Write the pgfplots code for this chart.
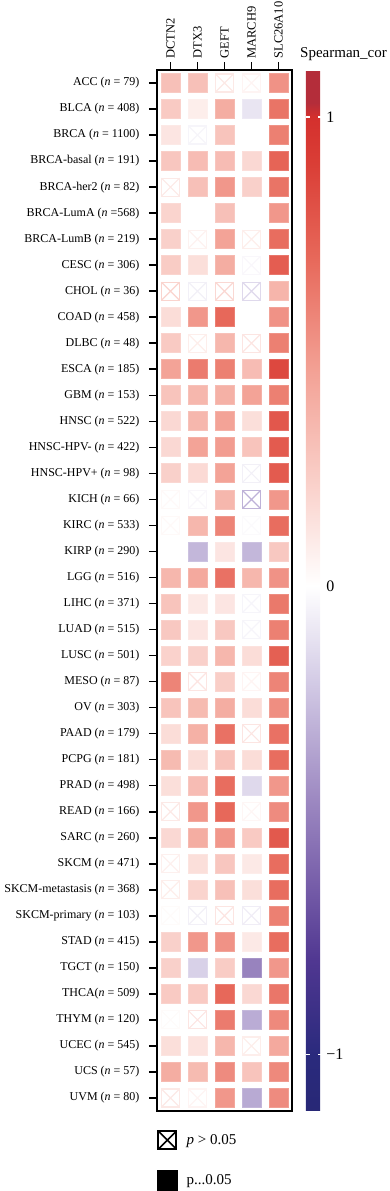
\documentclass[border=0pt]{standalone}
\usepackage{fontspec}
\setmainfont{Liberation Serif}
\usepackage{pgfplots}
\pgfplotsset{compat=1.18}
\usepackage{pgfplotstable}

% filled cells (p <= 0.05): column, row, Spearman correlation
\pgfplotstableread{
x y v
0 0 0.30
1 0 0.30
4 0 0.52
0 1 0.25
1 1 0.08
2 1 0.40
3 1 -0.10
4 1 0.65
0 2 0.12
2 2 0.28
3 2 0.00
4 2 0.60
0 3 0.27
1 3 0.32
2 3 0.32
3 3 0.18
4 3 0.72
1 4 0.30
2 4 0.50
3 4 0.22
4 4 0.65
0 5 0.20
1 5 0.00
2 5 0.30
3 5 0.00
4 5 0.50
0 6 0.22
2 6 0.45
4 6 0.68
0 7 0.24
1 7 0.15
2 7 0.40
4 7 0.75
4 8 0.36
0 9 0.16
1 9 0.50
2 9 0.70
3 9 0.00
4 9 0.52
0 10 0.25
2 10 0.35
4 10 0.60
0 11 0.45
1 11 0.62
2 11 0.60
3 11 0.32
4 11 0.85
0 12 0.28
1 12 0.35
2 12 0.38
3 12 0.45
4 12 0.60
0 13 0.18
1 13 0.35
2 13 0.45
3 13 0.15
4 13 0.78
0 14 0.18
1 14 0.45
2 14 0.48
3 14 0.28
4 14 0.76
0 15 0.22
1 15 0.17
2 15 0.45
4 15 0.76
2 16 0.35
4 16 0.50
1 17 0.35
2 17 0.58
4 17 0.68
0 18 0.00
1 18 -0.28
2 18 0.12
3 18 -0.28
4 18 0.26
0 19 0.35
1 19 0.42
2 19 0.66
3 19 0.35
4 19 0.52
0 20 0.28
1 20 0.10
2 20 0.12
4 20 0.63
0 21 0.26
1 21 0.12
2 21 0.26
4 21 0.60
0 22 0.21
1 22 0.22
2 22 0.35
3 22 0.16
4 22 0.74
0 23 0.58
2 23 0.23
4 23 0.58
0 24 0.28
1 24 0.33
2 24 0.40
3 24 0.16
4 24 0.54
0 25 0.16
1 25 0.38
2 25 0.66
4 25 0.66
0 26 0.33
1 26 0.16
2 26 0.28
3 26 0.16
4 26 0.68
0 27 0.15
1 27 0.32
2 27 0.68
3 27 -0.15
4 27 0.50
1 28 0.50
2 28 0.70
4 28 0.55
0 29 0.18
1 29 0.40
2 29 0.50
3 29 0.25
4 29 0.77
1 30 0.15
2 30 0.27
3 30 0.10
4 30 0.68
1 31 0.20
2 31 0.30
3 31 0.15
4 31 0.68
4 32 0.60
0 33 0.22
1 33 0.50
2 33 0.52
3 33 0.10
4 33 0.68
0 34 0.22
1 34 -0.18
2 34 0.24
3 34 -0.48
4 34 0.50
0 35 0.25
1 35 0.25
2 35 0.70
3 35 0.18
4 35 0.64
2 36 0.62
3 36 -0.32
4 36 0.56
0 37 0.15
1 37 0.13
2 37 0.35
4 37 0.42
0 38 0.40
1 38 0.33
2 38 0.55
3 38 0.28
4 38 0.56
2 39 0.50
3 39 -0.33
4 39 0.55
}\sigtable

% crossed cells (p > 0.05)
\pgfplotstableread{
x y v
2 0 0.10
3 0 0.05
1 2 -0.04
0 4 0.10
1 6 0.06
3 6 0.08
3 7 -0.03
0 8 0.20
1 8 -0.06
2 8 0.18
3 8 -0.15
1 10 0.08
3 10 0.12
3 15 -0.06
0 16 0.03
1 16 -0.03
3 16 -0.30
0 17 0.03
3 17 -0.02
3 20 -0.04
3 21 -0.04
1 23 0.12
3 23 0.05
3 25 0.12
0 28 0.10
3 28 0.04
0 30 0.07
0 31 0.08
0 32 0.02
1 32 -0.06
2 32 0.12
3 32 -0.07
0 36 0.02
1 36 0.12
3 37 0.08
0 39 0.10
1 39 0.05
}\nstable

\begin{document}
\begin{tikzpicture}
\path[use as bounding box] (0,0) rectangle (389pt,-1191pt);
\begin{axis}[
  at={(157pt,-70pt)}, anchor=north west,
  scale only axis, width=135pt, height=1041pt,
  xmin=-0.5, xmax=4.5, ymin=-0.5, ymax=39.5,
  y dir=reverse,
  axis line style={line width=1.6pt},
  tick align=outside,
  major tick length=8pt,
  tick style={black, line width=1.6pt},
  xtick={0,1,2,3,4},
  xticklabels={DCTN2,DTX3,GEFT,MARCH9,SLC26A10},
  xtick pos=upper, xticklabel pos=upper,
  xticklabel style={rotate=90, anchor=west, font=\fontsize{12.5}{12.5}\selectfont},
  ytick={0,...,39},
  ytick pos=lower,
  yticklabel style={font=\fontsize{12}{12}\selectfont, xshift=-6pt},
  yticklabels={
    {ACC (\textit{n} = 79)},
    {BLCA (\textit{n} = 408)},
    {BRCA (\textit{n} = 1100)},
    {BRCA-basal (\textit{n} = 191)},
    {BRCA-her2 (\textit{n} = 82)},
    {BRCA-LumA (\textit{n} =568)},
    {BRCA-LumB (\textit{n} = 219)},
    {CESC (\textit{n} = 306)},
    {CHOL (\textit{n} = 36)},
    {COAD (\textit{n} = 458)},
    {DLBC (\textit{n} = 48)},
    {ESCA (\textit{n} = 185)},
    {GBM (\textit{n} = 153)},
    {HNSC (\textit{n} = 522)},
    {HNSC-HPV- (\textit{n} = 422)},
    {HNSC-HPV+ (\textit{n} = 98)},
    {KICH (\textit{n} = 66)},
    {KIRC (\textit{n} = 533)},
    {KIRP (\textit{n} = 290)},
    {LGG (\textit{n} = 516)},
    {LIHC (\textit{n} = 371)},
    {LUAD (\textit{n} = 515)},
    {LUSC (\textit{n} = 501)},
    {MESO (\textit{n} = 87)},
    {OV (\textit{n} = 303)},
    {PAAD (\textit{n} = 179)},
    {PCPG (\textit{n} = 181)},
    {PRAD (\textit{n} = 498)},
    {READ (\textit{n} = 166)},
    {SARC (\textit{n} = 260)},
    {SKCM (\textit{n} = 471)},
    {SKCM-metastasis (\textit{n} = 368)},
    {SKCM-primary (\textit{n} = 103)},
    {STAD (\textit{n} = 415)},
    {TGCT (\textit{n} = 150)},
    {THCA(\textit{n} = 509)},
    {THYM (\textit{n} = 120)},
    {UCEC (\textit{n} = 545)},
    {UCS (\textit{n} = 57)},
    {UVM (\textit{n} = 80)}},
  colormap={spear}{
    rgb255(0pt)=(40,40,118);
    rgb255(12pt)=(42,42,125);
    rgb255(32pt)=(80,55,145);
    rgb255(49pt)=(120,95,170);
    rgb255(67pt)=(158,138,194);
    rgb255(92pt)=(212,204,230);
    rgb255(112pt)=(255,255,255);
    rgb255(132pt)=(250,212,206);
    rgb255(157pt)=(243,163,151);
    rgb255(182pt)=(231,104,90);
    rgb255(202pt)=(218,62,54);
    rgb255(212pt)=(212,48,45);
    rgb255(215pt)=(180,45,58);
    rgb255(222pt)=(180,45,58)},
  point meta min=-1.12, point meta max=1.1,
  colorbar,
  colorbar shift/.style={xshift=13pt},
  colorbar style={
    width=16pt,
    ytick={-1,0,1},
    yticklabels={−1,0,1},
    axis line style={draw=none},
    tick align=inside,
    major tick length=4pt,
    ytick pos=both, yticklabel pos=right,
    ytick style={white, line width=1.5pt},
    yticklabel style={font=\fontsize{16}{16}\selectfont, xshift=1pt},
  },
  legend style={draw=none, fill=none, at={(0,0)}, anchor=north west,
    yshift=-19pt, row sep=20pt, inner sep=0pt,
    font=\fontsize{15}{15}\selectfont,
    /tikz/every odd column/.append style={column sep=7pt}},
  legend cell align=left,
]
\addplot[scatter, only marks, mark=square*, mark size=9.5pt,
  scatter/use mapped color={draw=mapped color!85!white, fill=mapped color},
  mark options={line width=0.8pt},
  scatter src=explicit, forget plot] table[x=x, y=y, meta=v] {\sigtable};
\addplot[scatter, only marks, mark=square, mark size=9pt,
  scatter/use mapped color={draw=mapped color, fill=mapped color},
  mark options={line width=1.2pt},
  scatter src=explicit, forget plot] table[x=x, y=y, meta=v] {\nstable};
\addplot[scatter, only marks, mark=x, mark size=12.73pt,
  scatter/use mapped color={draw=mapped color, fill=mapped color},
  mark options={line width=1.2pt},
  scatter src=explicit, forget plot] table[x=x, y=y, meta=v] {\nstable};
\addlegendimage{legend image code/.code={
  \draw[black, line width=2pt] (0pt,-9pt) rectangle (18pt,9pt);
  \draw[black, line width=1.6pt] (0pt,-9pt) -- (18pt,9pt) (0pt,9pt) -- (18pt,-9pt);}}
\addlegendentry{\textit{p} > 0.05}
\addlegendimage{legend image code/.code={
  \fill[black] (-1pt,-10pt) rectangle (19pt,10pt);}}
\addlegendentry{p...0.05}
\end{axis}
\node[anchor=base west, font=\fontsize{15}{15}\selectfont, inner sep=0pt] at (300pt,-57pt) {Spearman\_cor};
\end{tikzpicture}
\end{document}
